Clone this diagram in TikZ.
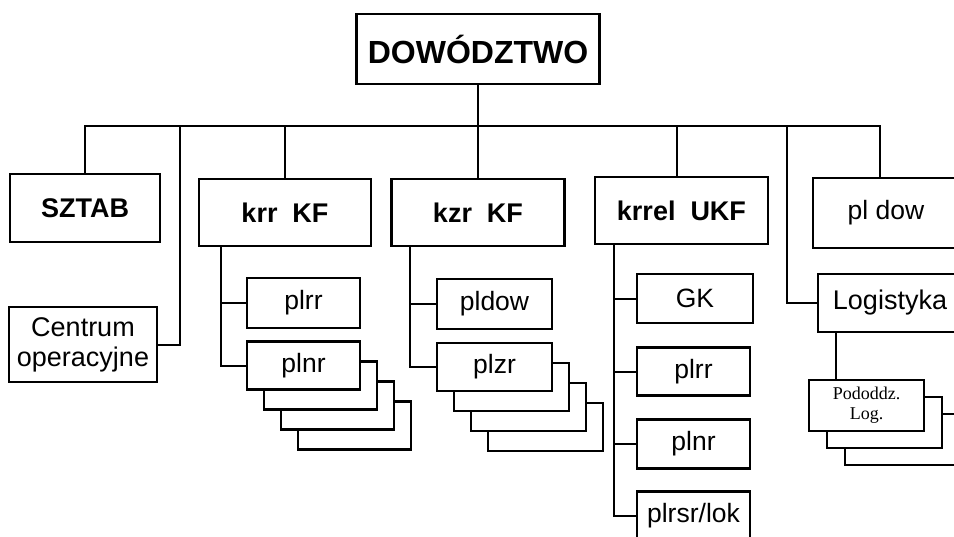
\documentclass[tikz,border=0pt]{standalone}
\usepackage{fontspec}
\setmainfont{Liberation Sans}
\newfontfamily\serifface{Liberation Serif}
\usetikzlibrary{positioning}

\begin{document}
\begin{tikzpicture}[x=1pt, y=-1pt,
    box/.style={draw, line width=2.8pt, fill=white, inner sep=0pt, align=center},
    headbox/.style={box, font=\fontsize{27}{30}\selectfont\bfseries},
    cellbox/.style={box, font=\fontsize{26.5}{30}\selectfont},
    link/.style={line width=2pt}]
    \useasboundingbox (0,0) rectangle (954,536);
    \clip (0,0) rectangle (954,536);

    % Top level
    \node (dow) [headbox, font=\fontsize{32}{36}\selectfont\bfseries, minimum width=243pt, minimum height=70pt] at (478,49) {DOWÓDZTWO};
    \node (sztab) [headbox, minimum width=150pt, minimum height=68pt] at (85,208) {SZTAB};
    \node (krr) [headbox, minimum width=172pt, minimum height=67pt] at (285,212.5) {krr\ \ KF};
    \node (kzr) [headbox, minimum width=173pt, minimum height=67pt] at (478,212.5) {kzr\ \ KF};
    \node (krrel) [headbox, minimum width=173pt, minimum height=67pt] at (681.5,210.5) {krrel\ \ UKF};
    \node (pldow) [cellbox, minimum width=146pt, minimum height=70pt] at (886,213) {pl dow};
    \node (centrum) [cellbox, font=\fontsize{27}{30}\selectfont, minimum width=148pt, minimum height=75pt] at (83,344.5) {Centrum\\operacyjne};
    \node (logistyka) [cellbox, font=\fontsize{27}{30}\selectfont, minimum width=144pt, minimum height=58pt] at (890,303) {Logistyka};

    % krr KF branch
    \foreach \k in {3,2,1}
        \node (plnr\k) [cellbox, minimum width=113pt, minimum height=48pt] at (303.5+17*\k, 365.5+20*\k) {};
    \node (plrr) [cellbox, minimum width=113pt, minimum height=50pt] at (303.5,303) {plrr};
    \node (plnr) [cellbox, minimum width=113pt, minimum height=48pt] at (303.5,365.5) {plnr};

    % kzr KF branch
    \foreach \k in {3,2,1}
        \node (plzr\k) [cellbox, minimum width=115pt, minimum height=48pt] at (494.5+17*\k, 367+20*\k) {};
    \node (kzrdow) [cellbox, minimum width=115pt, minimum height=50pt] at (494.5,304) {pldow};
    \node (plzr) [cellbox, minimum width=115pt, minimum height=48pt] at (494.5,367) {plzr};

    % krrel UKF branch
    \node (gk) [cellbox, minimum width=116pt, minimum height=49pt] at (695,298.5) {GK};
    \node (ukfrr) [cellbox, minimum width=113pt, minimum height=48pt, below=22pt of gk.south west, anchor=north west] {plrr};
    \node (ukfnr) [cellbox, minimum width=113pt, minimum height=49pt, below=21pt of ukfrr] {plnr};
    \node (ukflok) [cellbox, minimum width=113pt, minimum height=49pt, below=20pt of ukfnr] {plrsr/lok};

    % Logistyka branch
    \foreach \k in {2,1}
        \node (pododdz\k) [box, minimum width=115pt, minimum height=51pt] at (866.5+18*\k, 405.5+17*\k) {};
    \node (pododdz) [box, font=\fontsize{18}{20}\selectfont\serifface, minimum width=115pt, minimum height=51pt] at (866.5,405.5) {Pododdz.\\Log.};

    % Connection lines
    \coordinate (bus) at (478,126);
    \coordinate (cbus) at (180,126);
    \coordinate (lbus) at (787,126);
    \draw[link] (dow.south) -- (kzr.north);
    \draw[link] (sztab.north) |- (bus) -| ([xshift=-6pt]pldow.north);
    \draw[link] (krr.north) -- (krr.north |- bus);
    \draw[link] ([xshift=-5pt]krrel.north) -- ([xshift=-5pt]krrel.north |- bus);
    \draw[link] (centrum.east) -| (cbus);
    \draw[link] (logistyka.west) -| (lbus);

    \coordinate (krrspine) at ([xshift=23pt]krr.south west);
    \draw[link] (krrspine) |- (plnr.west);
    \draw[link] (plrr.west) -- (plrr.west -| krrspine);

    \coordinate (kzrspine) at ([xshift=20pt]kzr.south west);
    \draw[link] (kzrspine) |- (plzr.west);
    \draw[link] (kzrdow.west) -- (kzrdow.west -| kzrspine);

    \coordinate (ukfspine) at ([xshift=20pt]krrel.south west);
    \draw[link] (ukfspine) |- (ukflok.west);
    \draw[link] (gk.west) -- (gk.west -| ukfspine);
    \draw[link] (ukfrr.west) -- (ukfrr.west -| ukfspine);
    \draw[link] (ukfnr.west) -- (ukfnr.west -| ukfspine);

    \coordinate (logspine) at ([xshift=28pt]pododdz.north west);
    \draw[link] (logspine) -- (logspine |- logistyka.south);
\end{tikzpicture}
\end{document}
